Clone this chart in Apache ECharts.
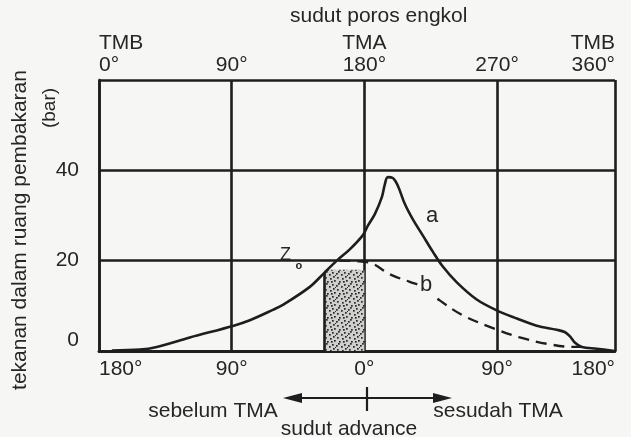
<!DOCTYPE html>
<html>
<head>
<meta charset="utf-8">
<script src="https://cdn.jsdelivr.net/npm/echarts@6/dist/echarts.min.js"></script>
<style>
html,body{margin:0;padding:0;background:#f6f6f4;}
#chart{width:631px;height:437px;}
</style>
</head>
<body>
<div id="chart"></div>
<script>
// ---- data (crank angle in degrees on the drawing scale, pressure in bar) ----
const curveA = [[8.7,0.1],[27.7,0.3],[39.2,0.9],[61.6,3.0],[91.4,5.6],[102.3,6.8],[117.9,9.1],[124.7,10.2],[143.0,14.2],[152.5,17.2],[161.3,20.0],[170.1,22.5],[178.9,25.6],[182.3,27.7],[187.1,30.3],[191.8,34.0],[193.8,36.8],[195.9,38.5],[199.3,38.3],[202.7,36.6],[207.4,32.6],[212.8,29.2],[219.6,25.6],[226.4,22.0],[233.2,18.7],[242.7,15.2],[256.2,11.4],[269.8,9.0],[283.4,7.2],[296.9,5.6],[310.5,4.7],[315.9,4.2],[319.3,3.3],[322.7,1.9],[327.5,0.9],[337.6,0.5],[349.8,0.0]];
const curveB = [[163.0,20.0],[173.4,19.9],[185.0,19.4],[197.2,17.0],[210.8,15.3],[219.6,14.2],[231.1,11.2],[246.8,7.9],[268.5,4.9],[285.4,3.0],[303.7,1.6],[321.4,0.9],[327.5,0.9]];
const shadeX = [152.5, 180];
const shadeTop = 18;
const shadeEdgeTop = 17.2;
const xTicks = [0, 90, 180, 270, 350];
const topTickNames = ['TMB', '', 'TMA', '', 'TMB'];
const topTickLabels = ['0°', '90°', '180°', '270°', '360°'];
const bottomTickLabels = ['180°', '90°', '0°', '90°', '180°'];
const yTickLabels = ['0', '20', '40', ''];
const curveLabels = [{name:'a', coord:[226, 29.8]}, {name:'b', coord:[221.8, 14.6]}];
const zLabel = {coord:[126.5, 21.2]};
const zSubLabel = {coord:[135.5, 18.8]};

const FONT = 'Liberation Sans';
const TXT = '#262626';
const LINE = '#1e1e1e';

function stipple(){
  const c = document.createElement('canvas');
  c.width = 12; c.height = 12;
  const g = c.getContext('2d');
  g.fillStyle = '#cfcfcd'; g.fillRect(0,0,12,12);
  g.fillStyle = '#2a2a2a';
  const dots = [[1,1],[6,2],[10,4],[3,5],[8,8],[0,9],[5,10],[9,0],[2,7],[11,11],[7,5]];
  dots.forEach(d => g.fillRect(d[0], d[1], 1.7, 1.7));
  return c;
}

function tickIndex(v){
  let best = 0;
  xTicks.forEach((t,i)=>{ if (Math.abs(t-v) < Math.abs(xTicks[best]-v)) best = i; });
  return best;
}

const chart = echarts.init(document.getElementById('chart'), null, {renderer:'canvas'});
const option = {
  backgroundColor: '#f6f6f4',
  animation: false,
  textStyle: {fontFamily: FONT, color: TXT},
  grid: {left: 99, right: 16, top: 80, bottom: 86},
  xAxis: [
    {
      type: 'value', position: 'top', min: 0, max: 350, interval: 90,
      axisLine: {show: true, lineStyle: {color: LINE, width: 2.6}},
      axisTick: {show: false},
      splitLine: {show: true, lineStyle: {color: LINE, width: 2.6}},
      axisLabel: {
        margin: 4, fontSize: 21, lineHeight: 22, color: TXT, fontFamily: FONT,
        alignMinLabel: 'left', alignMaxLabel: 'right',
        formatter: v => { const i = tickIndex(v); return topTickNames[i] + '\n' + topTickLabels[i]; }
      }
    },
    {
      type: 'value', position: 'bottom', min: 0, max: 350, interval: 90,
      axisLine: {show: true, onZero: false, lineStyle: {color: LINE, width: 2.6}},
      axisTick: {show: false},
      splitLine: {show: false},
      axisLabel: {
        margin: 8, fontSize: 21, color: TXT, fontFamily: FONT,
        alignMinLabel: 'left', alignMaxLabel: 'right',
        formatter: v => bottomTickLabels[tickIndex(v)]
      }
    }
  ],
  yAxis: {
    type: 'value', min: 0, max: 60, interval: 20,
    axisLine: {show: true, lineStyle: {color: LINE, width: 2.6}},
    axisTick: {show: false},
    splitLine: {show: true, lineStyle: {color: LINE, width: 2.6}},
    axisLabel: {
      margin: 20, fontSize: 21, color: TXT, fontFamily: FONT,
      formatter: v => { const s = yTickLabels[Math.round(v/20)]; return v === 0 ? '{z|' + s + '}' : s; },
      rich: {z: {fontSize: 21, padding: [0,0,22,0], color: TXT, fontFamily: FONT}}
    }
  },
  series: [
    {
      name: 'a', type: 'line', xAxisIndex: 1, data: curveA, smooth: 0.35,
      symbol: 'none', lineStyle: {color: LINE, width: 2.6}, z: 5,
      markArea: {
        silent: true,
        itemStyle: {color: {image: stipple(), repeat: 'repeat'}, borderWidth: 0},
        data: [[{xAxis: shadeX[0], yAxis: 0}, {xAxis: shadeX[1], yAxis: shadeTop}]]
      },
      markLine: {
        silent: true, symbol: 'none', label: {show: false},
        lineStyle: {color: LINE, width: 2.6, type: 'solid'},
        data: [[{coord: [shadeX[0], 0]}, {coord: [shadeX[0], shadeEdgeTop]}]]
      },
      markPoint: {
        silent: true, symbol: 'circle', symbolSize: 1, itemStyle: {color: 'rgba(0,0,0,0)'},
        data: [
          {coord: curveLabels[0].coord, label: {show: true, formatter: curveLabels[0].name, fontSize: 22, color: TXT, fontFamily: FONT}},
          {coord: curveLabels[1].coord, label: {show: true, formatter: curveLabels[1].name, fontSize: 22, color: TXT, fontFamily: FONT, backgroundColor: '#f6f6f4', padding: [0,1]}},
          {coord: zLabel.coord, label: {show: true, formatter: 'Z', fontSize: 18, color: TXT, fontFamily: FONT}},
          {coord: zSubLabel.coord, label: {show: true, formatter: 'o', fontSize: 11, fontWeight: 'bold', color: TXT, fontFamily: FONT}}
        ]
      }
    },
    {
      name: 'b', type: 'line', xAxisIndex: 1, data: curveB, smooth: 0.35,
      symbol: 'none', lineStyle: {color: LINE, width: 2.3, type: [11, 7]}, z: 4
    }
  ],
  graphic: [
    {type: 'text', left: 290, top: 6, style: {text: 'sudut poros engkol', fontSize: 21, fill: TXT, fontFamily: FONT}},
    {type: 'text', x: 20, y: 230, rotation: Math.PI/2, style: {text: 'tekanan dalam ruang pembakaran', fontSize: 21, fill: TXT, fontFamily: FONT, align: 'center', verticalAlign: 'middle'}},
    {type: 'text', x: 50, y: 108, rotation: Math.PI/2, style: {text: '(bar)', fontSize: 19, fill: TXT, fontFamily: FONT, align: 'center', verticalAlign: 'middle'}},
    {type: 'text', x: 213, y: 411, style: {text: 'sebelum TMA', fontSize: 21, fill: TXT, fontFamily: FONT, align: 'center', verticalAlign: 'middle'}},
    {type: 'text', x: 498, y: 411, style: {text: 'sesudah TMA', fontSize: 21, fill: TXT, fontFamily: FONT, align: 'center', verticalAlign: 'middle'}},
    {type: 'text', x: 349, y: 429, style: {text: 'sudut advance', fontSize: 21, fill: TXT, fontFamily: FONT, align: 'center', verticalAlign: 'middle'}},
    {type: 'line', shape: {x1: 292, y1: 398, x2: 443, y2: 398}, style: {stroke: LINE, lineWidth: 2.2}},
    {type: 'polygon', shape: {points: [[283,398],[302,393],[302,403]]}, style: {fill: LINE}},
    {type: 'polygon', shape: {points: [[452,398],[433,393],[433,403]]}, style: {fill: LINE}},
    {type: 'line', shape: {x1: 367, y1: 387, x2: 367, y2: 411}, style: {stroke: LINE, lineWidth: 2.2}}
  ]
};
chart.setOption(option);
</script>
</body>
</html>
